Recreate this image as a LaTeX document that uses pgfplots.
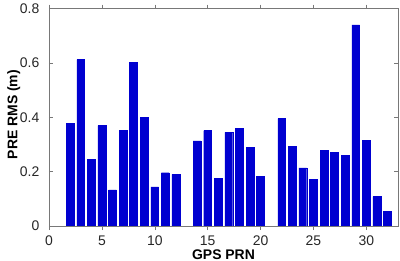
\documentclass[border=0pt]{standalone}
\usepackage{pgfplots}
\pgfplotsset{compat=1.18}
\usetikzlibrary{calc}
\usepackage{fontspec}
\setmainfont{Liberation Sans}
\definecolor{barblue}{RGB}{0,0,208}
\definecolor{axgray}{RGB}{120,120,120}
\begin{document}
\fontsize{14}{16}\selectfont
\begin{tikzpicture}
\useasboundingbox (-49bp,-35bp) rectangle (351bp,226bp);
\begin{axis}[
  scale only axis,
  width=349bp, height=217.5bp,
  at={(0,0)}, anchor=origin,
  xmin=0, xmax=33, ymin=0, ymax=0.8,
  xtick={0,5,...,30},
  ytick={0,0.2,0.4,0.6,0.8},
  yticklabel style={/pgf/number format/fixed,/pgf/number format/precision=1,
    inner sep=0pt, anchor=east, xshift=-9.5bp},
  xticklabel style={inner sep=0pt, anchor=north, yshift=-5.5bp},
  /pgf/number format/assume math mode=true,
  tick align=inside,
  major tick length=4bp,
  axis line style={axgray},
  every tick/.style={axgray},
  tick label style={font=\fontsize{14}{16}\selectfont, text=black!85},
  xlabel={\bfseries GPS PRN},
  ylabel={\bfseries PRE RMS (m)},
  every axis x label/.style={at={($(axis description cs:0.5,0)+(0bp,-33bp)$)}, anchor=base, font=\fontsize{14}{16}\selectfont},
  every axis y label/.style={at={($(axis description cs:0,0.5)+(-31.7bp,2.7bp)$)}, rotate=90, anchor=base, font=\fontsize{14}{16}\selectfont},
  ybar, bar width=0.74,
  bar shift=0pt,
]
\addplot[fill=barblue, draw=barblue] coordinates {
(2,0.377) (3,0.612) (4,0.244) (5,0.369) (6,0.133) (7,0.351) (8,0.602)
(9,0.399) (10,0.144) (11,0.196) (12,0.190) (14,0.313) (15,0.351)
(16,0.174) (17,0.344) (18,0.358) (19,0.290) (20,0.183) (22,0.395)
(23,0.293) (24,0.214) (25,0.171) (26,0.277) (27,0.271) (28,0.260)
(29,0.740) (30,0.314) (31,0.108) (32,0.054)
};
\end{axis}
\end{tikzpicture}
\end{document}
